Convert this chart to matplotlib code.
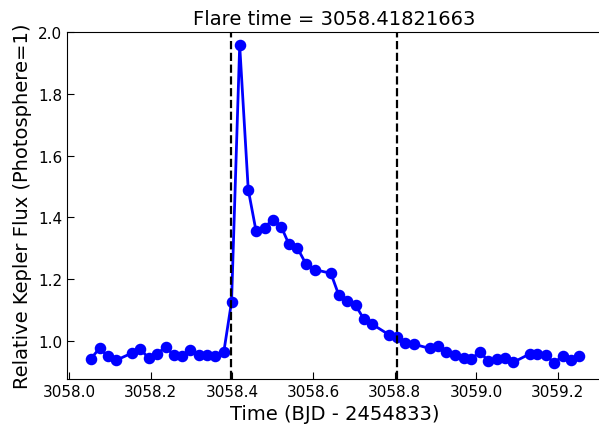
import matplotlib
matplotlib.use("Agg")
import matplotlib.pyplot as plt

# light curve around the flare
time = [3058.053, 3058.075, 3058.095, 3058.116, 3058.154, 3058.175, 3058.195,
        3058.216, 3058.237, 3058.257, 3058.277, 3058.298, 3058.318, 3058.339,
        3058.359, 3058.380, 3058.399, 3058.419, 3058.440, 3058.459, 3058.480,
        3058.500, 3058.521, 3058.540, 3058.561, 3058.582, 3058.603, 3058.643,
        3058.662, 3058.683, 3058.704, 3058.724, 3058.745, 3058.786, 3058.806,
        3058.826, 3058.846, 3058.886, 3058.907, 3058.927, 3058.948, 3058.969,
        3058.988, 3059.009, 3059.029, 3059.050, 3059.070, 3059.091, 3059.131,
        3059.150, 3059.171, 3059.191, 3059.212, 3059.232, 3059.253]
flux = [0.942, 0.977, 0.950, 0.938, 0.961, 0.974, 0.945,
        0.959, 0.980, 0.955, 0.950, 0.972, 0.956, 0.956,
        0.950, 0.965, 1.127, 1.956, 1.490, 1.357, 1.367,
        1.393, 1.370, 1.313, 1.300, 1.249, 1.231, 1.219,
        1.150, 1.130, 1.115, 1.071, 1.054, 1.020, 1.012,
        0.995, 0.990, 0.976, 0.985, 0.963, 0.956, 0.944,
        0.942, 0.965, 0.936, 0.942, 0.946, 0.931, 0.958,
        0.957, 0.954, 0.930, 0.950, 0.938, 0.952]

flare_time = 3058.41821663
flare_start = 3058.3985
flare_end = 3058.8057

fig = plt.figure(figsize=(5.99, 4.27), dpi=100)
ax = fig.add_axes([0.112, 0.110, 0.893, 0.813])

ax.plot(time, flux, '-o', color='blue', lw=2, markersize=7.3)
ax.axvline(flare_start, color='k', ls='--', lw=1.6)
ax.axvline(flare_end, color='k', ls='--', lw=1.6)

ax.set_xlim(3057.995, 3059.309)
ax.set_ylim(0.877, 2.0)
ax.set_xticks([3058.0, 3058.2, 3058.4, 3058.6, 3058.8, 3059.0, 3059.2])
ax.set_yticks([1.0, 1.2, 1.4, 1.6, 1.8, 2.0])
ax.tick_params(direction='in', labelsize=11, length=5)

ax.set_xlabel("Time (BJD - 2454833)", fontsize=14)
ax.set_ylabel("Relative Kepler Flux (Photosphere=1)", fontsize=14)
ax.set_title("Flare time = %.8f" % flare_time, fontsize=14)

fig.savefig("out.png", dpi=100)
